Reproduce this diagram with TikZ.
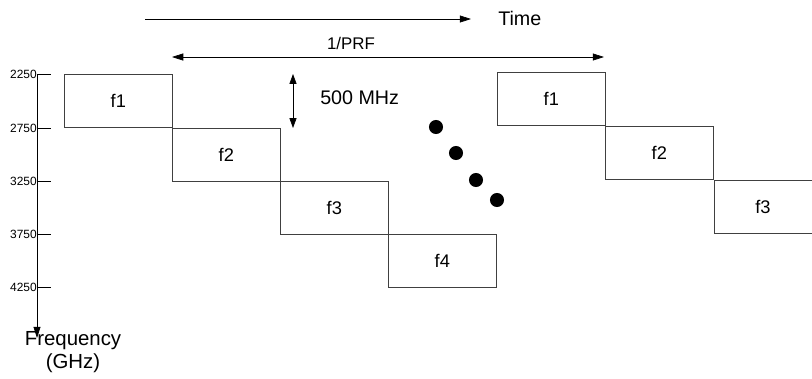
\documentclass[tikz,border=0pt]{standalone}
\usepackage{fontspec}
\setmainfont{Liberation Sans}
\usetikzlibrary{arrows.meta}
\definecolor{linegray}{gray}{0.25}

\begin{document}
\begin{tikzpicture}[x=0.025cm,y=-0.025cm,
		band/.style={draw=linegray,line width=0.5pt,minimum width=2.7cm,minimum height=1.335cm,inner sep=0pt,anchor=north west,font=\fontsize{13}{15}\selectfont},
		ticklabel/.style={anchor=east,inner sep=0pt,font=\fontsize{8.5}{10}\selectfont},
		bigtext/.style={inner sep=0pt,font=\fontsize{14}{16}\selectfont},
		arr/.style={line width=0.5pt,-{Triangle[length=8pt,width=5pt]}},
		dblarr/.style={line width=0.5pt,{Triangle[length=8pt,width=5pt]}-{Triangle[length=8pt,width=5pt]}}]
		\useasboundingbox (0,0) rectangle (812,378);
		% first sweep
		\node[band] (f1) at (64,74) {f1};
		\node[band] (f2) at (172,128) {f2};
		\node[band] (f3) at (280,181) {f3};
		\node[band] (f4) at (388,234) {f4};
		% second sweep
		\node[band] (f1b) at (497,72) {f1};
		\node[band] (f2b) at (605,126) {f2};
		\draw[draw=linegray,line width=0.5pt] (812,180) -- (714,180) -- (714,233) -- (812,233);
		\node[inner sep=0pt,font=\fontsize{13}{15}\selectfont] (f3b) at (763,207) {f3};
		
		% frequency axis
		\coordinate (top) at (37,74);
		\coordinate (bot) at (37,338);
		\draw[arr] (top) -- (bot);
		\foreach \y/\lab in {74/2250,128/2750,181/3250,234/3750,287/4250}
		{
			\draw[line width=0.5pt] (37,\y) -- (51,\y);
			\node[ticklabel] (tick\lab) at (37,\y) {\lab};
		}
		\node[bigtext,font=\fontsize{14.5}{16}\selectfont] (freq) at (73,341) {Frequency};
		\node[bigtext,font=\fontsize{14.5}{16}\selectfont] (ghz) at (73,363) {(GHz)};
		
		% time axis
		\coordinate (t0) at (145,19);
		\coordinate (t1) at (471,19);
		\draw[arr] (t0) -- (t1);
		\node[bigtext,anchor=west] (time) at (498,18) {Time};
		
		% pulse repetition
		\coordinate (p0) at (172,57);
		\coordinate (p1) at (604,57);
		\draw[dblarr] (p0) -- (p1);
		\node[inner sep=0pt,font=\fontsize{12}{14}\selectfont] (prf) at (351,43) {1/PRF};
		
		% band step
		\coordinate (m0) at (293,74);
		\coordinate (m1) at (293,128);
		\draw[line width=0.5pt,{Triangle[length=7pt,width=5pt]}-{Triangle[length=7pt,width=5pt]}] (m0) -- (m1);
		\node[bigtext,anchor=west] (mhz) at (320,98) {500 MHz};
		
		% dots
		\foreach \x/\y in {436/127,456/153,476/180,497/200}
			\fill (\x,\y) circle (5pt);
\end{tikzpicture}
\end{document}
